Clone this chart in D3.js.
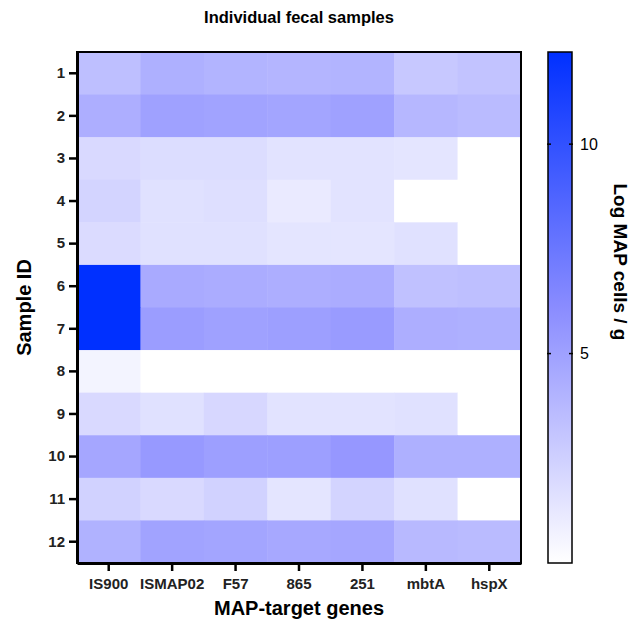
<!DOCTYPE html>
<html>
<head>
<meta charset="utf-8">
<script src="https://cdn.jsdelivr.net/npm/d3@7"></script>
<style>
  body { margin: 0; background: #fff; }
  text { font-family: "Liberation Sans", Arial, sans-serif; }
</style>
</head>
<body>
<div id="chart"></div>
<script>
// genes (columns) and samples (rows)
var genes = ["IS900", "ISMAP02", "F57", "865", "251", "mbtA", "hspX"];
var samples = ["1", "2", "3", "4", "5", "6", "7", "8", "9", "10", "11", "12"];

// log MAP cells/g, one array per sample, null = not detected (white)
var s1  = [3.4, 4.2, 4.0, 3.9, 4.0, 2.9, 3.2];
var s2  = [4.3, 5.0, 4.9, 4.8, 5.0, 3.8, 3.6];
var s3  = [2.0, 1.8, 1.8, 1.5, 1.5, 1.4, null];
var s4  = [2.3, 1.6, 1.7, 1.1, 1.5, null, null];
var s5  = [1.9, 1.6, 1.6, 1.4, 1.4, 1.6, null];
var s6  = [12.2, 4.5, 4.4, 4.3, 4.4, 3.3, 3.4];
var s7  = [12.2, 5.2, 5.0, 5.1, 5.3, 4.3, 4.2];
var s8  = [0.6, null, null, null, null, null, null];
var s9  = [2.0, 1.6, 2.1, 1.5, 1.5, 1.6, null];
var s10 = [4.7, 5.4, 5.1, 5.1, 5.5, 4.2, 4.2];
var s11 = [2.4, 2.0, 2.4, 1.4, 2.3, 1.6, null];
var s12 = [4.1, 4.9, 4.8, 4.6, 4.7, 3.7, 3.6];
var values = [s1, s2, s3, s4, s5, s6, s7, s8, s9, s10, s11, s12];

var colorTicks = [5, 10];
var colorDomain = [0, 6.1, 12.2];
var colorRange = ["#ffffff", "#8a8cff", "#0030ff"];

var W = 632, H = 630;
var margin = {top: 52, right: 111, bottom: 67, left: 77};
var width = W - margin.left - margin.right,
    height = H - margin.top - margin.bottom;

var svg = d3.select("#chart").append("svg")
  .attr("width", W).attr("height", H);

var g = svg.append("g")
  .attr("transform", "translate(" + margin.left + "," + margin.top + ")");

var x = d3.scaleBand().domain(genes).range([0, width]);
var y = d3.scaleBand().domain(samples).range([0, height]);
var color = d3.scaleLinear().domain(colorDomain).range(colorRange).clamp(true);

// flatten
var cells = [];
values.forEach(function(row, i) {
  row.forEach(function(v, j) {
    cells.push({sample: samples[i], gene: genes[j], value: v});
  });
});

g.selectAll("rect.cell")
  .data(cells)
  .enter().append("rect")
  .attr("class", "cell")
  .attr("x", function(d) { return x(d.gene); })
  .attr("y", function(d) { return y(d.sample); })
  .attr("width", x.bandwidth() + 0.5)
  .attr("height", y.bandwidth() + 0.5)
  .attr("fill", function(d) { return d.value == null ? "#ffffff" : color(d.value); });

// frame
g.append("rect")
  .attr("width", width).attr("height", height)
  .attr("fill", "none").attr("stroke", "#000").attr("stroke-width", 2);

// axes
var yAxis = g.append("g")
  .call(d3.axisLeft(y).tickSize(8).tickSizeOuter(0).tickPadding(4));
yAxis.select(".domain").attr("stroke-width", 3);
yAxis.selectAll(".tick line").attr("stroke-width", 2.5);
yAxis.selectAll(".tick text")
  .attr("font-size", 15).attr("font-weight", "bold").attr("fill", "#222")
  .style("font-family", "'Liberation Sans', Arial, sans-serif");

var xAxis = g.append("g")
  .attr("transform", "translate(0," + height + ")")
  .call(d3.axisBottom(x).tickSize(8).tickSizeOuter(0).tickPadding(7));
xAxis.select(".domain").attr("stroke-width", 3);
xAxis.selectAll(".tick line").attr("stroke-width", 2.5);
xAxis.selectAll(".tick text")
  .attr("font-size", 15).attr("font-weight", "bold").attr("fill", "#222")
  .style("font-family", "'Liberation Sans', Arial, sans-serif");

// titles
svg.append("text")
  .attr("x", margin.left + width / 2).attr("y", 23)
  .attr("text-anchor", "middle")
  .attr("font-size", 16.5).attr("font-weight", "bold")
  .text("Individual fecal samples");

svg.append("text")
  .attr("x", margin.left + width / 2).attr("y", 615)
  .attr("text-anchor", "middle")
  .attr("font-size", 20).attr("font-weight", "bold")
  .text("MAP-target genes");

svg.append("text")
  .attr("transform", "translate(31," + (margin.top + height / 2) + ") rotate(-90)")
  .attr("text-anchor", "middle")
  .attr("font-size", 20).attr("font-weight", "bold")
  .text("Sample ID");

// color bar
var barX = 548, barW = 24;
var cScale = d3.scaleLinear().domain([colorDomain[0], colorDomain[2]]).range([margin.top + height, margin.top]);

var defs = svg.append("defs");
var grad = defs.append("linearGradient")
  .attr("id", "cbar").attr("x1", 0).attr("y1", 1).attr("x2", 0).attr("y2", 0);
d3.range(0, 1.01, 0.1).forEach(function(t) {
  grad.append("stop")
    .attr("offset", t)
    .attr("stop-color", color(colorDomain[0] + t * (colorDomain[2] - colorDomain[0])));
});

svg.append("rect")
  .attr("x", barX).attr("y", margin.top)
  .attr("width", barW).attr("height", height)
  .attr("fill", "url(#cbar)")
  .attr("stroke", "#000").attr("stroke-width", 1.5);

var cb = svg.selectAll("g.cbtick")
  .data(colorTicks)
  .enter().append("g")
  .attr("class", "cbtick")
  .attr("transform", function(d) { return "translate(0," + cScale(d) + ")"; });
cb.append("line").attr("x1", barX - 1).attr("x2", barX + 3).attr("stroke", "#000").attr("stroke-width", 1.5);
cb.append("line").attr("x1", barX + barW - 3).attr("x2", barX + barW + 1).attr("stroke", "#000").attr("stroke-width", 1.5);
cb.append("text")
  .attr("x", barX + barW + 8).attr("dy", "0.35em")
  .attr("font-size", 16)
  .text(function(d) { return d; });

svg.append("text")
  .attr("transform", "translate(614," + 262 + ") rotate(90)")
  .attr("text-anchor", "middle")
  .attr("font-size", 19).attr("font-weight", "bold")
  .text("Log MAP cells / g");
</script>
</body>
</html>
